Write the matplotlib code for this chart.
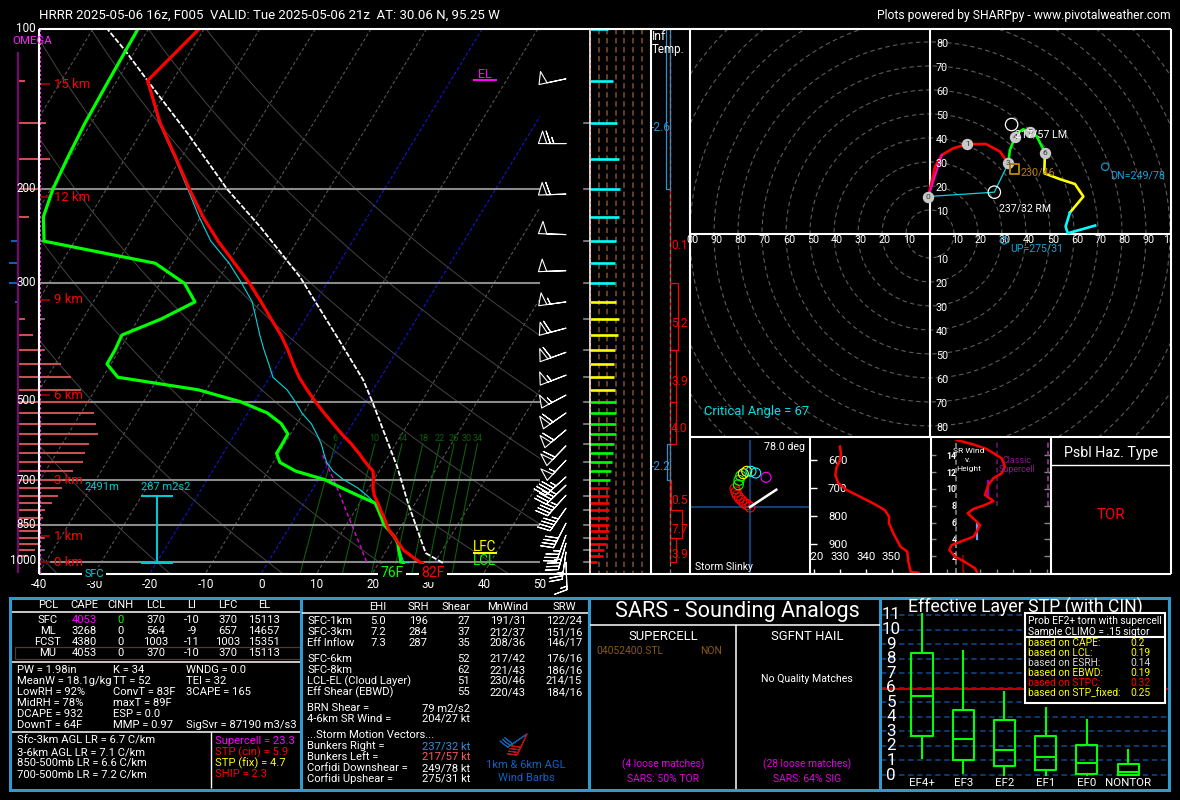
import matplotlib
matplotlib.use("Agg")
import matplotlib.pyplot as plt
import numpy as np
from matplotlib.patches import Rectangle

plt.rcParams['font.family'] = ['Roboto', 'DejaVu Sans']

W, H = 1180, 800
P_BOT = 1048.0   # pressure at the bottom edge of the skew-T
SKEW = 58.5      # degC of slant per decade of pressure

# ---- sounding, 25 mb levels, last entry is the surface
pres = [100, 125, 150, 175, 200, 225, 250, 275, 300, 325, 350, 375, 400, 425, 450, 475, 500, 525, 550,
        575, 600, 625, 650, 675, 700, 725, 750, 775, 800, 825, 850, 875, 900, 925, 950, 975, 1000, 1003]
temp = [-70.9, -74.5, -67.6, -60.8, -55, -49.6, -44.2, -38.8, -33.9, -29.8, -26.1, -22.6, -19.7, -17.2,
        -14.7, -11.9, -9.1, -6.3, -3.5, -0.8, 2, 4.4, 6.6, 8.9, 9.9, 10.7, 11.8, 13.3, 14.6, 16, 17.2,
        18.5, 20.2, 21.6, 23.1, 25.2, 27.3, 27.9]
dewp = [-81.9, -81.5, -81.1, -80.4, -79.6, -78.3, -75.5, -53.1, -45.6, -41.7, -45.9, -51.2, -50.8, -50.7,
        -47.3, -31.5, -22.6, -16.5, -12.8, -10.5, -10.4, -10.4, -8.8, -5, 1.1, 5, 8.9, 12.8, 14.2, 15.5,
        16.7, 18.5, 20.2, 21.4, 22.2, 23.1, 23.9, 24.5]
wetb = [-74.5, -67.8, -61, -55.3, -50.3, -45.5, -39.8, -35.3, -31.4, -28.8, -26.4, -24, -21.6, -19.4,
        -15.5, -12.7, -10.3, -7.4, -5.3, -3.4, -1.9, -0.4, 1.7, 4.5, 7.9, 10.5, 12.8, 14.2, 15.6, 16.9,
        18.5, 20.2, 21.4, 22.4, 23.4, 24.4, 25.4]
parcel_p = [1003, 962, 898, 775, 663, 565, 503, 455, 375, 292, 235, 200, 157, 125, 110, 100]
parcel_t = [31.5, 27.4, 24.6, 18.7, 12.8, 6.2, 1.4, -2.9, -12.7, -25.5, -38.2, -48.2, -61.5, -74.5, -81.7, -87.4]
down_p = [630, 724, 834, 1003]
down_t = [-1.9, 4.2, 10.1, 17.9]

omega = [7, 28, 32, 24, 11, -7, -9, -9, -3, 7, 15, 26, 43, 53, 63, 72, 76, 78, 80, 71, 67, 65, 55, 45,
         44, 40, 34, 27, 25, 22, 23, 26, 20, 17, 9, 0]
wind_spd_bars = [21, 27, 31, 34, 35, 34, 30, 29, 29, 30, 34, 33, 29, 28, 28, 29, 30, 30, 30, 30, 28, 27,
                 26, 24, 23, 22, 22, 22, 22, 22, 22, 22, 21, 19, 16, 15, 8]

barb_p = [124, 164, 204, 243, 284, 325, 364, 404, 446, 486, 525, 565, 605, 644, 692, 717, 749, 792, 845, 890, 921, 957, 1000]
barb_dir = [258, 270, 268, 272, 268, 262, 255, 250, 249, 242, 235, 230, 224, 223, 228, 226, 222, 215, 207, 200, 196, 188, 178]
barb_spd = [50, 65, 60, 50, 50, 55, 60, 58, 57, 55, 59, 60, 58, 53, 44, 44, 44, 44, 41, 37, 33, 26, 16]

mix_ratios = [6, 10, 14, 18, 22, 26, 30, 34]
km_labels = ['15 km', '12 km', '9 km', '6 km', '3 km', '1 km', '0 km']
km_pres = [127, 207, 322, 486, 702, 894, 1000]
grid_pres = [200, 300, 500, 700, 850, 1000]
temp_ticks = [-40, -30, -20, -10, 0, 10, 20, 30, 40, 50]

inf_edges = [100, 200, 300, 400, 500, 600, 700, 800, 900, 1000]
inf_values = [-2.6, 0.1, 5.2, 3.9, 4.0, -2.2, 0.5, 7.7, 3.9]

# ---- hodograph, knots
hodo_0_3_u = [-0.7, 2.1, 4.9, 9.7, 15.6, 23.3, 29.2, 32.6]
hodo_0_3_v = [15.6, 28.1, 32.9, 35.7, 37.4, 37.5, 34.3, 29.4]
hodo_3_6_u = [32.6, 33.3, 35.4, 37.1, 38.9, 41.7, 44.4, 47.9]
hodo_3_6_v = [29.4, 35, 40.3, 42.6, 43.6, 42.4, 40.8, 33.9]
hodo_6_9_u = [47.9, 47.6, 54.2, 60.4, 63.9, 58.3]
hodo_6_9_v = [33.9, 25.3, 22.8, 20.8, 15.6, 8.9]
hodo_9_u = [58.3, 56.5, 57.4, 63.2, 68.8]
hodo_9_v = [8.9, 3.1, 0.3, 1.9, 3.5]
hodo_mark_km = ['0', '1', '3', '4', '5', '6']
hodo_mark_u = [-0.7, 15.6, 32.6, 35.4, 41.7, 47.9]
hodo_mark_v = [15.6, 37.4, 29.4, 40.3, 42.4, 33.9]
rm_uv = (26.8, 17.4)
lm_uv = (34.0, 45.6)
mean_uv = (35.2, 27.0)
dn_uv = (73.0, 28.0)
up_uv = (30.9, -2.7)

# ---- storm slinky
slinky_u = [0, -2.7, -5.7, -8.3, -10.7, -12.7, -14, -15, -11.7, -11, -9.3, -6.7, -3.3, 1, 5.7, 16]
slinky_v = [0, 2.3, 4, 6.7, 9, 11.7, 15, 18.3, 22.3, 26.7, 31, 33.3, 35.7, 35.7, 34, 29.7]
slinky_col = ['r'] * 8 + ['#00ff00'] * 3 + ['yellow'] * 2 + ['cyan'] * 2 + ['magenta']
slinky_tilt_u = [0, 26.3]
slinky_tilt_v = [0, 17.3]

# ---- theta-e vs pressure
thetae = [330, 330.4, 330, 328.7, 328.2, 329.4, 332.6, 336.5, 342.9, 347.4, 349, 349, 350.7, 353.5, 356.1, 356.5, 357.4, 360.4]
thetae_p = [552, 576, 600, 626, 654, 683, 707, 725, 755, 779, 802, 826, 862, 910, 927, 963, 999, 1003]

# ---- storm relative wind vs height
srw = [28, 27, 20, 15, 11.6, 13, 21, 26, 28, 30, 27, 22.6, 26, 33, 38, 33, 35, 38, 43, 45, 43, 34, 26, 16]
srw_h = [0.16, 0.56, 1.43, 1.94, 2.74, 3.33, 3.93, 4.32, 4.92, 5.71, 6.31, 7.1, 7.62, 8.1, 8.57, 9.29,
         10.48, 11.27, 11.87, 12.65, 13.65, 14.76, 15.3, 15.83]

# ---- STP box plot
stp_cats = ['EF4+', 'EF3', 'EF2', 'EF1', 'EF0', 'NONTOR']
stp_low = [1.2, 0.15, 0, 0, 0, 0]
stp_q1 = [2.7, 1.0, 0.65, 0.35, 0.1, 0]
stp_med = [5.4, 2.5, 1.7, 1.25, 0.85, 0.2]
stp_q3 = [8.4, 4.5, 3.8, 2.7, 2.05, 0.75]
stp_high = [11.1, 8.5, 5.7, 4.6, 3.8, 1.75]
stp_now = 5.9
prob_labels = ['based on CAPE:', 'based on LCL:', 'based on ESRH:', 'based on EBWD:', 'based on STPC:', 'based on STP_fixed:']
prob_vals = ['0.2', '0.19', '0.14', '0.19', '0.32', '0.25']
prob_cols = ['yellow', 'yellow', '#d8d8d8', 'yellow', 'red', 'yellow']

# ---- text tables
pcl_head = ['PCL', 'CAPE', 'CINH', 'LCL', 'LI', 'LFC', 'EL']
pcl_rows = [['SFC', '4053', '0', '370', '-10', '370', '15113'],
            ['ML', '3268', '0', '564', '-9', '657', '14657'],
            ['FCST', '4380', '0', '1003', '-11', '1003', '15351'],
            ['MU', '4053', '0', '370', '-10', '370', '15113']]
idx_col1 = ['PW = 1.98in', 'MeanW = 18.1g/kg', 'LowRH = 92%', 'MidRH = 78%', 'DCAPE = 932', 'DownT = 64F']
idx_col2 = ['K = 34', 'TT = 52', 'ConvT = 83F', 'maxT = 89F', 'ESP = 0.0', 'MMP = 0.97']
idx_col3 = ['WNDG = 0.0', 'TEI = 32', '3CAPE = 165', '', '', 'SigSvr = 87190 m3/s3']
lapse = ['Sfc-3km AGL LR = 6.7 C/km', '3-6km AGL LR = 7.1 C/km', '850-500mb LR = 6.6 C/km', '700-500mb LR = 7.2 C/km']
comp = ['Supercell = 23.3', 'STP (cin) = 5.9', 'STP (fix) = 4.7', 'SHIP = 2.3']
comp_cols = ['magenta', 'red', 'yellow', 'red']
kin_rows = [('SFC-1km', '5.0', '196', '27', '191/31', '122/24', 621),
            ('SFC-3km', '7.2', '284', '37', '212/37', '151/16', 632),
            ('Eff Inflow', '7.3', '287', '35', '208/36', '146/17', 643),
            ('SFC-6km', '', '', '52', '217/42', '176/16', 659),
            ('SFC-8km', '', '', '62', '221/43', '186/16', 670),
            ('LCL-EL (Cloud Layer)', '', '', '51', '230/46', '214/15', 681),
            ('Eff Shear (EBWD)', '', '', '55', '220/43', '184/16', 692)]
motion = [('BRN Shear =', '79 m2/s2', 'white', 708), ('4-6km SR Wind =', '204/27 kt', 'white', 719),
          ('Bunkers Right =', '237/32 kt', '#2f8fd0', 746), ('Bunkers Left =', '217/57 kt', '#ff5a5a', 757),
          ('Corfidi Downshear =', '249/78 kt', 'white', 768), ('Corfidi Upshear =', '275/31 kt', 'white', 779)]

TBL = 11.3   # table text size in pixels

fig = plt.figure(figsize=(W / 100, H / 100), dpi=100, facecolor='black')


def add_ax(x0, y0, x1, y1, z=1):
    # axes placed by pixel box, y measured from the top of the image
    ax = fig.add_axes([x0 / W, 1 - y1 / H, (x1 - x0) / W, (y1 - y0) / H], zorder=z)
    ax.patch.set_alpha(0)
    ax.set_xticks([])
    ax.set_yticks([])
    for s in ax.spines.values():
        s.set_visible(False)
    return ax


def log_p(ax):
    ax.set_yscale('log')
    ax.set_ylim(P_BOT, 100)
    ax.minorticks_off()
    ax.set_yticks([])


def px(size):
    return size * 0.72


def skew_x(t, p):
    return np.asarray(t, dtype=float) + SKEW * np.log10(P_BOT / np.asarray(p, dtype=float))


# ---- skew-T background stops at the barb column
ax_bg = add_ax(39, 29, 540, 573, 1)
log_p(ax_bg)
ax_bg.set_xlim(-40, 50.1)
p_line = np.geomspace(100, P_BOT, 60)
for iso in range(-110, 60, 10):
    if iso in (-20, 0):
        ax_bg.plot(skew_x(iso, p_line), p_line, color='#1414d8', lw=0.8, ls=(0, (3, 2)))
    else:
        ax_bg.plot(skew_x(iso, p_line), p_line, color='#555555', lw=0.8, ls=(0, (3, 2)))
for th in range(-60, 140, 20):
    t_ad = (th + 273.15) * (p_line / 1000.0) ** 0.286 - 273.15
    ax_bg.plot(skew_x(t_ad, p_line), p_line, color='#444444', lw=0.7)
p_mix = np.geomspace(600, P_BOT, 20)
for w in mix_ratios:
    lne = np.log(w * p_mix / (622.0 + w) / 6.112)
    td = 243.5 * lne / (17.67 - lne)
    ax_bg.plot(skew_x(td, p_mix), p_mix, color='#0b5f0b', lw=0.8)
    ax_bg.text(skew_x(td[0], p_mix[0]), 587, str(w), color='#0b5f0b', ha='center', va='center', fontsize=px(9))
for p in grid_pres:
    ax_bg.axhline(p, color='#8a8a8a', lw=1.5)

# ---- skew-T traces
ax = add_ax(39, 29, 590, 573, 2)
log_p(ax)
ax.set_xlim(-40, 59.1)
for p in range(150, 1001, 50):
    ax.plot([0, 0.009], [p, p], color='#8a8a8a', lw=1.2, transform=ax.get_yaxis_transform())
    ax.plot([0.989, 1], [p, p], color='#8a8a8a', lw=1.2, transform=ax.get_yaxis_transform())
for lab, p in zip(km_labels, km_pres):
    ax.plot([0, 0.018], [p, p], color='#8b0000', lw=1.5, transform=ax.get_yaxis_transform())
    ax.text(0.027, p, lab, color='red', fontsize=px(13.3), va='center', transform=ax.get_yaxis_transform())
ax.plot(skew_x(parcel_t, parcel_p), parcel_p, color='white', lw=1.3, ls=(0, (3, 1)))
ax.plot(skew_x(down_t, down_p), down_p, color='#e000e0', lw=1, ls=(0, (3, 2)))
ax.plot(skew_x(wetb, pres[1:]), pres[1:], color='#00d8e0', lw=0.8)
ax.plot(skew_x(dewp, pres), pres, color='#00ff00', lw=2.3, solid_capstyle='round')
ax.plot(skew_x(temp, pres), pres, color='#ff0000', lw=2.3, solid_capstyle='round')

# ---- omega bars
ax_om = add_ax(0, 29, 100, 573, 3)
log_p(ax_om)
ax_om.set_xlim(-18, 82)
om = np.array(omega)
ax_om.hlines(pres[1:37], 0, om, colors=np.where(om > 0, '#c85050', '#1060b0'), lw=1.5)

# ---- wind barbs
ax_b = add_ax(530, 29, 590, 573, 3)
log_p(ax_b)
ax_b.set_xlim(0, 60)
rad = np.deg2rad(barb_dir)
ax_b.barbs(np.full(len(barb_p), 36.0), barb_p, -np.array(barb_spd) * np.sin(rad), -np.array(barb_spd) * np.cos(rad),
           length=6.3, pivot='tip', barbcolor='white', flagcolor='none', linewidth=0.8, clip_on=False,
           sizes=dict(height=0.45, spacing=0.13, width=0.3))

# ---- wind speed bars
ax_w = add_ax(590, 29, 650, 573, 3)
log_p(ax_w)
ax_w.set_xlim(0, 69.8)
ax_w.vlines([10, 20, 30, 40, 50, 60], 100, P_BOT, colors='#6e4326', lw=1.3, ls=(0, (3, 2)))
bar_cols = ['cyan' if p < 325 else 'yellow' if p < 500 else '#00ff00' if p < 725 else 'red' for p in pres[:37]]
ax_w.hlines(pres[:37], 0, wind_spd_bars, colors=bar_cols, lw=1.9)

# ---- inferred temperature advection
ax_i = add_ax(650, 29, 690, 573, 3)
log_p(ax_i)
ax_i.set_xlim(-12.9, 12.9)
ax_i.axvline(0, color='#777777', lw=1, ls=(0, (3, 2)))
for k, v in enumerate(inf_values):
    col = '#2f8fd0' if v < 0 else 'red'
    ax_i.barh(inf_edges[k], v, height=inf_edges[k + 1] - inf_edges[k], align='edge', facecolor='none', edgecolor=col, lw=0.9)
    xpos = -5.7 if v < 0 else 6.1
    ax_i.text(xpos, (inf_edges[k] + inf_edges[k + 1]) / 2.0 * 1.02, str(v), color=col, fontsize=px(12), ha='center', va='center')

# ---- hodograph
ax_h = add_ax(690, 29, 1170, 436, 3)
ax_h.set_xlim(-100, 100)
ax_h.set_ylim(-84.2, 85.4)
th = np.linspace(0, 2 * np.pi, 200)
for r in range(10, 130, 10):
    ax_h.plot(r * np.cos(th), r * np.sin(th), color='#5c5c5c', lw=0.8, ls=(0, (4, 3)))
ax_h.axhline(0, color='white', lw=1.5)
ax_h.axvline(0, color='white', lw=1.5)
HT = px(10.8)
for r in range(10, 100, 10):
    ax_h.text(r + 1.2, -0.4, str(r), color='white', fontsize=HT, ha='center', va='top')
    ax_h.text(-r + 1.2, -0.4, str(r), color='white', fontsize=HT, ha='center', va='top')
for r in range(10, 90, 10):
    ax_h.text(5, r - 1, str(r), color='white', fontsize=HT, ha='center', va='center')
    ax_h.text(5, -r - 1, str(r), color='white', fontsize=HT, ha='center', va='center')
ax_h.text(-99, -0.4, '00', color='white', fontsize=HT, ha='center', va='top')
ax_h.text(98.5, -0.4, '1', color='white', fontsize=HT, ha='center', va='top')
ax_h.plot([hodo_mark_u[0], rm_uv[0], hodo_mark_u[2]], [hodo_mark_v[0], rm_uv[1], hodo_mark_v[2]], color='#00d8e0', lw=0.9)
ax_h.plot(hodo_0_3_u, hodo_0_3_v, color='red', lw=1.9)
ax_h.plot([hodo_0_3_u[0], hodo_0_3_u[2]], [hodo_0_3_v[0], hodo_0_3_v[2]], color='#ff00c0', lw=1.5)
ax_h.plot(hodo_3_6_u, hodo_3_6_v, color='#00ff00', lw=1.9)
ax_h.plot(hodo_6_9_u, hodo_6_9_v, color='yellow', lw=1.9)
ax_h.plot(hodo_9_u, hodo_9_v, color='cyan', lw=1.9)
ax_h.scatter(hodo_mark_u, hodo_mark_v, s=52, color='#c8c8c8', zorder=5)
for lab, u, v in zip(hodo_mark_km, hodo_mark_u, hodo_mark_v):
    ax_h.text(u, v, lab, color='#333333', fontsize=px(8.5), ha='center', va='center', zorder=6)
ax_h.scatter(*rm_uv, s=80, facecolor='none', edgecolor='white', lw=0.9, zorder=5)
ax_h.scatter(*lm_uv, s=80, facecolor='none', edgecolor='white', lw=0.9, zorder=5)
ax_h.scatter(*mean_uv, s=45, marker='s', facecolor='none', edgecolor='#b87d10', lw=1.4, zorder=5)
ax_h.scatter(*dn_uv, s=28, facecolor='none', edgecolor='#1c8fc0', lw=0.9, zorder=5)
ax_h.scatter(*up_uv, s=28, facecolor='none', edgecolor='#1c8fc0', lw=0.9, zorder=5)
ax_h.text(rm_uv[0] + 1.8, rm_uv[1] - 7, '237/32 RM', color='white', fontsize=px(10.5), va='center', zorder=7)
ax_h.text(lm_uv[0] + 1.5, 41.5, '217/57 LM', color='white', fontsize=px(10.8), va='center', zorder=7)
ax_h.text(mean_uv[0] + 2.5, 25.5, '230/46', color='#b87d10', fontsize=px(10.8), va='center', zorder=7)
ax_h.text(dn_uv[0] + 2, 24.5, 'DN=249/78', color='#1c9fd8', fontsize=px(10.8), va='center', zorder=7)
ax_h.text(up_uv[0] + 2.5, -6, 'UP=275/31', color='#1c9fd8', fontsize=px(10.5), va='center', zorder=7)
ax_h.text(-94, -74, 'Critical Angle = 67', color='#00e0e8', fontsize=px(13), va='center', zorder=7)

# ---- storm slinky
ax_s = add_ax(690, 440, 810, 573, 3)
ax_s.set_xlim(-60, 60)
ax_s.set_ylim(-66, 67)
ax_s.axhline(0, color='#123f73', lw=1.5)
ax_s.axvline(0, color='#123f73', lw=1.5)
ax_s.scatter(slinky_u, slinky_v, s=52, facecolor='none', edgecolor=slinky_col, lw=0.8, zorder=3)
ax_s.plot(slinky_tilt_u, slinky_tilt_v, color='white', lw=1.8, zorder=4)
ax_s.text(55, 60, '78.0 deg', color='white', fontsize=px(10.6), ha='right', va='center')
ax_s.text(-55, -60, 'Storm Slinky', color='white', fontsize=px(10.4), ha='left', va='center')

# ---- theta-e
ax_t = add_ax(810, 440, 930, 573, 3)
ax_t.set_xlim(318.4, 364.9)
ax_t.set_ylim(1003.6, 528.6)
ax_t.set_yticks([600, 700, 800, 900])
ax_t.set_xticks([320, 330, 340, 350])
ax_t.tick_params(axis='y', direction='in', length=5, width=1, color='white', labelcolor='white', labelsize=px(11.5), pad=-27)
ax_t.tick_params(axis='x', direction='in', length=3, width=1, color='white', labelcolor='white', labelsize=px(11.5), pad=-15)
for lab in ax_t.get_xticklabels():
    lab.set_clip_box(ax_t.bbox)
    lab.set_clip_on(True)
ax_t.plot(thetae, thetae_p, color='red', lw=1.8)

# ---- SR wind vs height
ax_r = add_ax(930, 440, 1050, 573, 3)
ax_r.set_xlim(0, 72)
ax_r.set_ylim(0, 15.83)
ax_r.set_yticks([2, 4, 6, 8, 10, 12, 14])
ax_r.set_xticks([10, 20, 30, 40, 50, 60, 70])
ax_r.tick_params(axis='y', direction='in', length=4, width=1, color='#888888', labelcolor='white', labelsize=px(8.8),
                 pad=-19, left=True, right=True)
ax_r.tick_params(axis='x', direction='in', length=3, width=1, color='#888888', labelbottom=False)
for lab in ax_r.get_yticklabels():
    lab.set_fontweight('bold')
ax_r.axvline(15.6, color='#8a8a8a', lw=1.2, ls=(0, (3, 2)))
ax_r.plot([40, 40], [8, 15.83], color='#6a1470', lw=1.2, ls=(0, (3, 2)))
ax_r.plot([70.8, 70.8], [8, 15.83], color='#a03aa0', lw=1.2, ls=(0, (3, 2)))
ax_r.plot([20, 20], [0, 2], color='#8b0000', lw=1.3)
ax_r.plot([28, 28], [4, 6], color='#6aa0e8', lw=1.6)
ax_r.plot([35, 35], [9, 11], color='#9400d3', lw=1.6)
ax_r.plot(srw, srw_h, color='red', lw=1.8)
ax_r.text(23, 14.5, 'SR Wind', color='white', fontsize=px(8.5), ha='center', va='center')
ax_r.text(23, 13.5, 'v.', color='white', fontsize=px(8.5), ha='center', va='center')
ax_r.text(23, 12.4, 'Height', color='white', fontsize=px(8.5), ha='center', va='center')
ax_r.text(52, 13.4, 'Classic', color='#8a1a8a', fontsize=px(9), ha='center', va='center')
ax_r.text(52, 12.3, 'Supercell', color='#8a1a8a', fontsize=px(9), ha='center', va='center')

# ---- STP boxes
ax_p = add_ax(881, 600, 1168, 790, 3)
ax_p.set_xlim(0.005, 6.97)
ax_p.set_ylim(-1.03, 12.03)
for v in range(0, 12):
    ax_p.axhline(v, color='#0f3f7a', lw=1.3, ls=(0, (3, 2)), zorder=1)
    ax_p.text(0.25, v, str(v), color='white', fontsize=px(17), ha='center', va='center')
ax_p.axhline(stp_now, color='#c00000', lw=1.5, zorder=2)
stats = [dict(med=m, q1=a, q3=b, whislo=lo, whishi=hi, fliers=[])
         for m, a, b, lo, hi in zip(stp_med, stp_q1, stp_q3, stp_low, stp_high)]
ln = dict(color='#00ff00', lw=1.5)
ax_p.bxp(stats, positions=range(1, 7), widths=0.51, showcaps=False, showfliers=False, boxprops=ln, whiskerprops=ln,
         medianprops=ln, manage_ticks=False, zorder=3)
for k, lab in enumerate(stp_cats):
    ax_p.text(k + 1, -0.57, lab, color='white', fontsize=px(11.5), ha='center', va='center')

# ---- overlay with frames and text, in image pixels
ov = fig.add_axes([0, 0, 1, 1], zorder=5)
ov.patch.set_alpha(0)
ov.set_xlim(0, W)
ov.set_ylim(H, 0)
ov.axis('off')


def txt(x, y, s, col='white', size=TBL, ha='left', **kw):
    ov.text(x, y, s, color=col, fontsize=px(size), ha=ha, va='center', **kw)


def ln_px(xs, ys, col='white', lw=1.5, **kw):
    ov.plot(xs, ys, color=col, lw=lw, solid_capstyle='butt', **kw)


# top title
txt(39, 15, 'HRRR 2025-05-06 16z, F005  VALID: Tue 2025-05-06 21z  AT: 30.06 N, 95.25 W', size=13.2)
txt(1171, 15, 'Plots powered by SHARPpy - www.pivotalweather.com', size=12.15, ha='right')

# panel borders
ln_px([39, 1171], [29, 29])
ln_px([39, 1171], [573.5, 573.5])
ln_px([39, 39], [29, 574])
ln_px([39.5, 39.5], [29, 574], col='#ff40ff', lw=0.8, ls=(0, (2, 2)))
ln_px([590, 590], [29, 574], lw=1.2)
ln_px([590, 590], [29, 574], col='#ff9090', lw=0.8, ls=(0, (2, 3)))
ln_px([650.5, 650.5], [29, 574])
ln_px([690, 690], [29, 574])
ln_px([1171, 1171], [29, 574])
ln_px([690, 1171], [437, 437])
ln_px([810, 810], [437, 574])
ln_px([931, 931], [437, 574])
ln_px([1051, 1051], [437, 574])
ln_px([1051, 1171], [464.5, 464.5], lw=1)
ln_px([18, 18], [52, 573], col='#800080', lw=1.5)

# skew-T labels
for p_lab, y in zip(['100', '200', '300', '500', '700', '850', '1000'], [28, 188, 283, 401, 480, 524, 561]):
    txt(36, y, p_lab, ha='right', size=11.6)
for t, x in zip(temp_ticks, np.arange(len(temp_ticks)) * 55.6 + 39):
    txt(x, 585, str(t), ha='center', size=11.6)
txt(32, 41, 'OMEGA', col='#ff20ff', ha='center', size=11.5)
txt(485, 75, 'EL', col='#ff00ff', ha='center', size=12.5)
ln_px([473, 497], [79.5, 79.5], col='#ff00ff')
txt(485, 547, 'LFC', col='yellow', ha='center', size=13.5)
ln_px([473, 497], [552.5, 552.5], col='yellow')
txt(485, 561, 'LCL', col='#00ff00', ha='center', size=13.5)
txt(94, 574, 'SFC', col='#00c8d0', ha='center', size=11, bbox=dict(facecolor='black', edgecolor='none', pad=1.5))
txt(392, 573, '76F', col='#00ff00', ha='center', size=14, bbox=dict(facecolor='black', edgecolor='none', pad=1.5))
txt(433, 573, '82F', col='red', ha='center', size=14, bbox=dict(facecolor='black', edgecolor='none', pad=1.5))
txt(102, 487, '2491m', col='#00c8d0', ha='center', size=11.3)
txt(166, 487, '287 m2s2', col='#00c8d0', ha='center', size=11)
ln_px([157, 157], [496, 562], col='#00c8d0')
ln_px([141, 173], [496, 496], col='#00c8d0')
ln_px([141, 173], [562.5, 562.5], col='#00c8d0')
txt(652, 37, 'Inf', size=12)
txt(652, 50, 'Temp.', size=11.6)
txt(1111, 453, 'Psbl Haz. Type', ha='center', size=14.3)
txt(1111, 515, 'TOR', col='red', ha='center', size=15)

# bottom frame
ov.add_patch(Rectangle((10, 597.5), 1159, 192, facecolor='none', edgecolor='#2e9ad0', lw=2.2))
for x in [301, 589, 880]:
    ln_px([x, x], [597, 790], col='#2e9ad0', lw=2.2)

# parcel table
pcl_x = [48, 84, 120, 156, 192, 228, 264]
for x, s in zip(pcl_x, pcl_head):
    txt(x, 605, s, ha='center')
ln_px([12, 300], [611.5, 611.5], lw=1.1)
for r_i, (row, y) in enumerate(zip(pcl_rows, [620, 631, 642, 653])):
    for c_i, (x, s) in enumerate(zip(pcl_x, row)):
        col = 'white'
        if r_i == 0 and c_i == 1:
            col = '#ff00ff'
        if r_i == 0 and c_i == 2:
            col = '#00ff00'
        txt(x, y, s, col=col, ha='center')
ov.add_patch(Rectangle((14.5, 647), 285, 12, facecolor='none', edgecolor='#4d3a28', lw=0.9))
ln_px([12, 300], [662, 662], lw=1.1)
for k, y in enumerate([670, 681, 692, 703, 714, 725]):
    txt(17, y, idx_col1[k])
    txt(113, y, idx_col2[k])
    txt(186, y, idx_col3[k])
ln_px([12, 300], [732, 732], lw=1.1)
ln_px([210.5, 210.5], [732, 788], lw=1)
for k, y in enumerate([741, 752, 763, 774]):
    txt(17, y, lapse[k])
    txt(215, y, comp[k], col=comp_cols[k])

# kinematics table
for x, s in zip([378, 418, 456, 508, 564], ['EHI', 'SRH', 'Shear', 'MnWind', 'SRW']):
    txt(x, 607, s, ha='center')
ln_px([302, 588], [613, 613], lw=1.1)
for name, ehi, srh, shear, mn, sr, y in kin_rows:
    txt(307, y, name)
    txt(378, y, ehi, ha='center')
    txt(418, y, srh, ha='center')
    txt(470, y, shear, ha='right')
    txt(508, y, mn, ha='center')
    txt(564, y, sr, ha='center')
txt(307, 735, '...Storm Motion Vectors...')
for name, val, col, y in motion:
    txt(307, y, name)
    txt(470, y, val, col=col, ha='right')
ov.barbs([527], [734], [25], [17], length=5.8, pivot='tip', barbcolor='#1060b0', flagcolor='none', linewidth=0.8)
ov.barbs([527], [734], [17], [36], length=5.8, pivot='tip', barbcolor='#c01010', flagcolor='none', linewidth=0.8)
txt(526, 765, '1km & 6km AGL', col='#1060c0', ha='center')
txt(526, 778, 'Wind Barbs', col='#1060c0', ha='center')

# SARS panel
txt(737, 612, 'SARS - Sounding Analogs', ha='center', size=21.6)
ln_px([590, 880], [625, 625], lw=1.1)
ln_px([736, 736], [625, 789], lw=1.1)
txt(663, 636, 'SUPERCELL', ha='center', size=13)
txt(807, 636, 'SGFNT HAIL', ha='center', size=13)
txt(596, 651, '04052400.STL', col='#8a5a10', size=10.2)
txt(700, 651, 'NON', col='#8a5a10', size=10.2)
txt(807, 679, 'No Quality Matches', ha='center', size=10.5)
txt(663, 764, '(4 loose matches)', col='#e000e0', ha='center', size=10.2)
txt(663, 779, 'SARS: 50% TOR', col='#e000e0', ha='center', size=10.4)
txt(807, 764, '(28 loose matches)', col='#e000e0', ha='center', size=10.2)
txt(807, 779, 'SARS: 64% SIG', col='#e000e0', ha='center', size=10.4)

# STP panel text and inset
txt(1025, 607, 'Effective Layer STP (with CIN)', ha='center', size=17.6)
ov.add_patch(Rectangle((1025, 613), 140, 90, facecolor='black', edgecolor='white', lw=1.5, zorder=4))
ln_px([1025, 1165], [637, 637], lw=1.5, zorder=5)
txt(1028, 621, 'Prob EF2+ torn with supercell', size=10.2, zorder=6)
txt(1028, 632, 'Sample CLIMO = .15 sigtor', size=10.2, zorder=6)
for lab, val, col, y in zip(prob_labels, prob_vals, prob_cols, [643, 653, 663, 673, 683, 693]):
    txt(1028, y, lab, col=col, size=10.2, zorder=6)
    txt(1130, y, val, col=col, size=10.2, zorder=6)

fig.savefig('out.png', dpi=100, facecolor='black')
